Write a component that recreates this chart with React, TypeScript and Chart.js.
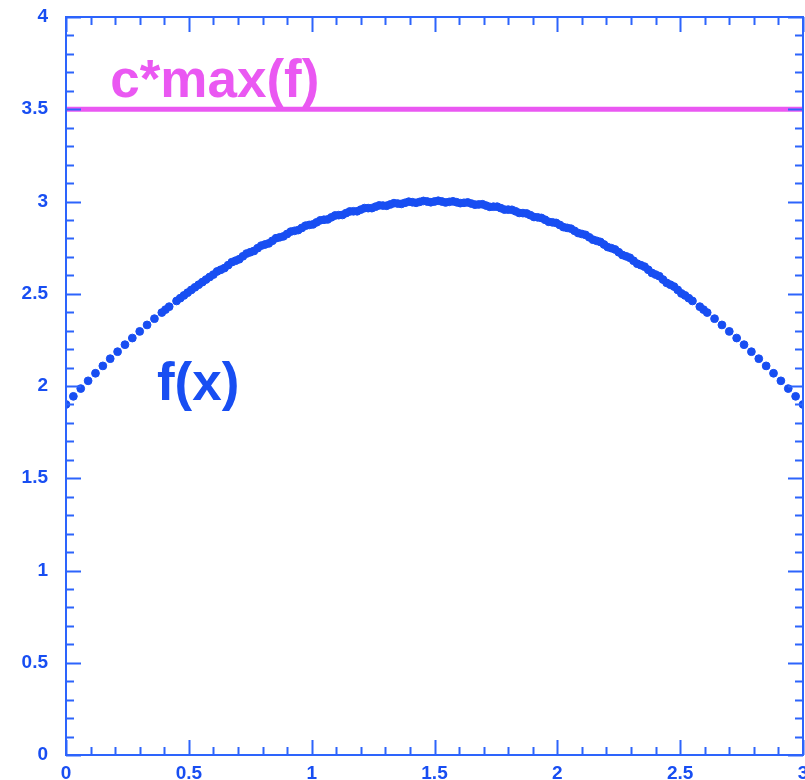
import React, { useEffect, useRef } from "react";
import { Chart, registerables } from "chart.js";

Chart.register(...registerables);

// Sampled points of f(x), coarse pass
const F_X = [
  0.0, 0.03, 0.06, 0.09, 0.12, 0.15, 0.18, 0.21, 0.24, 0.27,
  0.3, 0.33, 0.36, 0.39, 0.42, 0.45, 0.48, 0.51, 0.54, 0.57,
  0.6, 0.63, 0.66, 0.69, 0.72, 0.75, 0.78, 0.81, 0.84, 0.87,
  0.9, 0.93, 0.96, 0.99, 1.02, 1.05, 1.08, 1.11, 1.14, 1.17,
  1.2, 1.23, 1.26, 1.29, 1.32, 1.35, 1.38, 1.41, 1.44, 1.47,
  1.5, 1.53, 1.56, 1.59, 1.62, 1.65, 1.68, 1.71, 1.74, 1.77,
  1.8, 1.83, 1.86, 1.89, 1.92, 1.95, 1.98, 2.01, 2.04, 2.07,
  2.1, 2.13, 2.16, 2.19, 2.22, 2.25, 2.28, 2.31, 2.34, 2.37,
  2.4, 2.43, 2.46, 2.49, 2.52, 2.55, 2.58, 2.61, 2.64, 2.67,
  2.7, 2.73, 2.76, 2.79, 2.82, 2.85, 2.88, 2.91, 2.94, 2.97, 3.0,
];
const F_Y = [
  1.9, 1.944, 1.986, 2.028, 2.069, 2.109, 2.148, 2.186, 2.224, 2.26,
  2.296, 2.331, 2.365, 2.398, 2.43, 2.461, 2.491, 2.521, 2.549, 2.577,
  2.604, 2.63, 2.655, 2.679, 2.703, 2.725, 2.747, 2.767, 2.787, 2.806,
  2.824, 2.841, 2.857, 2.873, 2.887, 2.901, 2.914, 2.926, 2.937, 2.947,
  2.956, 2.964, 2.972, 2.978, 2.984, 2.989, 2.993, 2.996, 2.998, 3.0,
  3.0, 3.0, 2.998, 2.996, 2.993, 2.989, 2.984, 2.978, 2.972, 2.964,
  2.956, 2.947, 2.937, 2.926, 2.914, 2.901, 2.887, 2.873, 2.857, 2.841,
  2.824, 2.806, 2.787, 2.767, 2.747, 2.725, 2.703, 2.679, 2.655, 2.63,
  2.604, 2.577, 2.549, 2.521, 2.491, 2.461, 2.43, 2.398, 2.365, 2.331,
  2.296, 2.26, 2.224, 2.186, 2.148, 2.109, 2.069, 2.028, 1.986, 1.944, 1.9,
];

// Extra points of f(x) filling the middle of the range
const G_X = [
  0.405, 0.465, 0.495, 0.525, 0.555, 0.585,
  0.615, 0.645, 0.675, 0.705, 0.735, 0.765, 0.795, 0.825, 0.855, 0.885,
  0.915, 0.945, 0.975, 1.005, 1.035, 1.065, 1.095, 1.125, 1.155, 1.185,
  1.215, 1.245, 1.275, 1.305, 1.335, 1.365, 1.395, 1.425, 1.455, 1.485,
  1.515, 1.545, 1.575, 1.605, 1.635, 1.665, 1.695, 1.725, 1.755, 1.785,
  1.815, 1.845, 1.875, 1.905, 1.935, 1.965, 1.995, 2.025, 2.055, 2.085,
  2.115, 2.145, 2.175, 2.205, 2.235, 2.265, 2.295, 2.325, 2.355, 2.385,
  2.415, 2.445, 2.475, 2.505, 2.535, 2.595,
];
const G_Y = [
  2.414, 2.476, 2.506, 2.535, 2.563, 2.591,
  2.621, 2.639, 2.671, 2.687, 2.718, 2.732, 2.761, 2.773, 2.801, 2.811,
  2.837, 2.845, 2.869, 2.876, 2.898, 2.903, 2.924, 2.927, 2.946, 2.947,
  2.964, 2.964, 2.979, 2.977, 2.991, 2.987, 2.999, 2.993, 3.003, 2.996,
  3.004, 2.995, 3.001, 2.991, 2.995, 2.983, 2.985, 2.971, 2.972, 2.956,
  2.955, 2.938, 2.935, 2.916, 2.911, 2.89, 2.884, 2.861, 2.853, 2.829,
  2.819, 2.793, 2.781, 2.753, 2.74, 2.71, 2.695, 2.663, 2.647, 2.613,
  2.595, 2.559, 2.539, 2.502, 2.476, 2.414,
];

// Envelope c*max(f)
const ENV_X = [0, 3];
const ENV_Y = [3.5, 3.5];

const X_RANGE = [0, 3];
const Y_RANGE = [0, 4];

const BLUE = "rgb(24,78,242)";
const AXIS = "rgb(45,100,252)";
const MAGENTA = "rgb(234,88,242)";

const frameAndLabels = {
  id: "frameAndLabels",
  afterDatasetsDraw(chart: any) {
    const ctx = chart.ctx;
    const { left, right, top, bottom } = chart.chartArea;
    const xs = chart.scales.x;
    const ys = chart.scales.y;
    ctx.save();
    ctx.strokeStyle = AXIS;
    ctx.lineWidth = 2;
    ctx.strokeRect(left, top, right - left, bottom - top);
    ctx.beginPath();
    for (let i = 0; i <= 30; i++) {
      const px = Math.round(xs.getPixelForValue(i / 10)) + 0.5;
      const len = i % 5 === 0 ? 15 : 8;
      ctx.moveTo(px, bottom);
      ctx.lineTo(px, bottom - len);
      ctx.moveTo(px, top);
      ctx.lineTo(px, top + len);
    }
    for (let i = 0; i <= 40; i++) {
      const py = Math.round(ys.getPixelForValue(i / 10)) + 0.5;
      const len = i % 5 === 0 ? 15 : 8;
      ctx.moveTo(left, py);
      ctx.lineTo(left + len, py);
      ctx.moveTo(right, py);
      ctx.lineTo(right - len, py);
    }
    ctx.stroke();

    ctx.textAlign = "left";
    ctx.textBaseline = "alphabetic";
    ctx.font = "bold 53px 'Liberation Sans', Arial, sans-serif";
    ctx.fillStyle = MAGENTA;
    ctx.fillText("c*max(f)", xs.getPixelForValue(0.18), ys.getPixelForValue(3.566));
    ctx.fillStyle = BLUE;
    ctx.fillText("f(x)", xs.getPixelForValue(0.37), ys.getPixelForValue(1.924));
    ctx.restore();
  },
};

export default function App() {
  const ref = useRef<HTMLCanvasElement | null>(null);

  useEffect(() => {
    if (!ref.current) return;
    const tickFont = { family: "'Liberation Sans', Arial, sans-serif", size: 19, weight: "bold" as const };
    const fmt = (v: any) => String(Number(v));
    const markers = (xs: number[], ys: number[]) => xs.map((x, i) => ({ x, y: ys[i] }));
    const pointStyle = {
      backgroundColor: BLUE,
      borderColor: BLUE,
      borderWidth: 1,
      pointRadius: 3.9,
      pointStyle: "circle" as const,
    };
    const chart = new Chart(ref.current, {
      type: "scatter",
      data: {
        datasets: [
          {
            label: "c*max(f)",
            type: "line",
            data: markers(ENV_X, ENV_Y),
            borderColor: MAGENTA,
            borderWidth: 5,
            pointRadius: 0,
            fill: false,
          } as any,
          { label: "f(x)", data: markers(F_X, F_Y), ...pointStyle },
          { label: "f(x) ", data: markers(G_X, G_Y), ...pointStyle },
        ],
      },
      options: {
        animation: false,
        responsive: false,
        maintainAspectRatio: false,
        layout: { padding: { top: 17, right: 27, left: 0, bottom: 0 } },
        plugins: { legend: { display: false }, tooltip: { enabled: false } },
        scales: {
          x: {
            type: "linear",
            min: X_RANGE[0],
            max: X_RANGE[1],
            grid: { display: false, drawTicks: false },
            border: { display: false },
            ticks: { stepSize: 0.5, color: BLUE, font: tickFont, padding: 7, maxRotation: 0, callback: fmt },
            afterFit(scale: any) {
              scale.height = 25;
              scale.paddingLeft = 0;
              scale.paddingRight = 0;
            },
          },
          y: {
            type: "linear",
            min: Y_RANGE[0],
            max: Y_RANGE[1],
            grid: { display: false, drawTicks: false },
            border: { display: false },
            ticks: { stepSize: 0.5, color: BLUE, font: tickFont, padding: 18, callback: fmt },
            afterFit(scale: any) {
              scale.width = 66;
              scale.paddingTop = 0;
              scale.paddingBottom = 0;
            },
          },
        },
      },
      plugins: [frameAndLabels],
    });
    return () => chart.destroy();
  }, []);

  return (
    <div style={{ position: "absolute", left: 0, top: 0, width: 805, height: 780, overflow: "hidden", background: "#fff" }}>
      <canvas ref={ref} width={830} height={780} style={{ display: "block" }} />
    </div>
  );
}
